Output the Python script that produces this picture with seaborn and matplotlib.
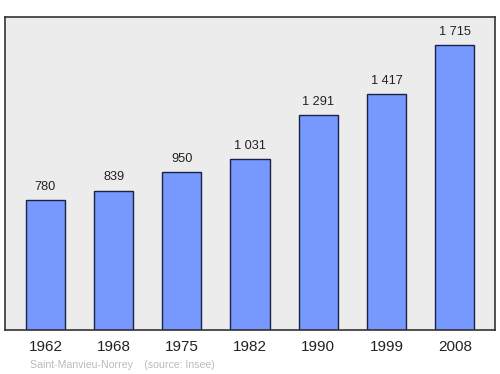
import matplotlib
matplotlib.use("Agg")
import matplotlib.pyplot as plt
import seaborn as sns
import pandas as pd

years = ["1962", "1968", "1975", "1982", "1990", "1999", "2008"]
population = [780, 839, 950, 1031, 1291, 1417, 1715]
value_labels = ["780", "839", "950", "1 031", "1 291", "1 417", "1 715"]
source_text = "Saint-Manvieu-Norrey    (source: Insee)"

sns.set_theme(style="white")
plt.rcParams['font.family'] = ['Liberation Sans', 'DejaVu Sans']

df = pd.DataFrame({"year": years, "pop": population})

fig = plt.figure(figsize=(5.0, 3.74), dpi=100)
ax = fig.add_axes([0.01, 0.1176, 0.98, 0.837])
ax.set_facecolor("#ececec")

sns.barplot(data=df, x="year", y="pop", ax=ax, color="#7799ff", saturation=1,
            width=0.575, edgecolor="#1a2244", linewidth=1.0)

ax.set_xlim(-0.593, 6.59)
ax.set_ylim(0, 1883)
for i, (v, lab) in enumerate(zip(population, value_labels)):
    ax.annotate(lab, (i, v), xytext=(0, 9.4), textcoords="offset points",
                ha="center", va="center", fontsize=9.2, color="#222222")

ax.set_xlabel("")
ax.set_ylabel("")
ax.set_yticks([])
ax.tick_params(axis="x", length=0, labelsize=11, pad=7.5, colors="#222222")
for s in ax.spines.values():
    s.set_color("#333333")
    s.set_linewidth(1.2)

fig.text(30 / 500, 1 - 365.5 / 374, source_text, fontsize=7.6, color="#bbbbbb",
         ha="left", va="center")

fig.savefig("out.png", dpi=100, facecolor="white")
